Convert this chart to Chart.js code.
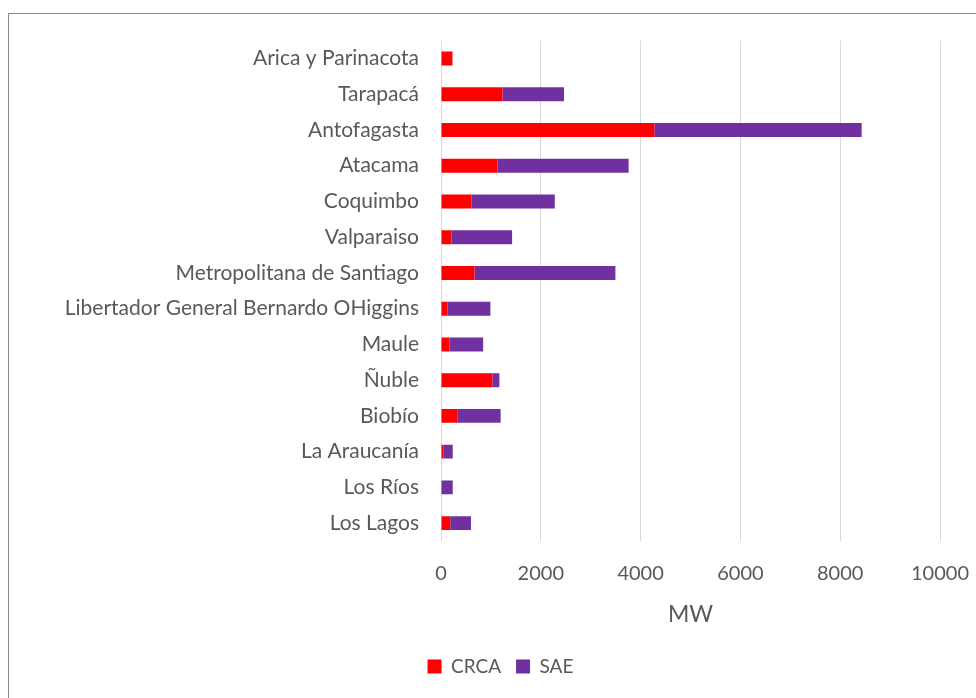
<!DOCTYPE html>
<html>
<head>
<meta charset="utf-8">
<script src="https://cdn.jsdelivr.net/npm/chart.js@4"></script>
<style>
  html, body { margin: 0; padding: 0; background: #ffffff; overflow: hidden; }
  #frame {
    position: absolute; left: 8px; top: 13px;
    width: 1000px; height: 720px;
    border-left: 1px solid #8a8a8a; border-top: 1px solid #8a8a8a;
  }
  #wrap { position: absolute; left: 9px; top: 14px; width: 967px; height: 684px; }
</style>
</head>
<body>
<div id="frame"></div>
<div id="wrap"><canvas id="chart"></canvas></div>
<script>
// Installed capacity by region (MW)
const regions = [
  'Arica y Parinacota', 'Tarapacá', 'Antofagasta', 'Atacama', 'Coquimbo',
  'Valparaiso', 'Metropolitana de Santiago', 'Libertador General Bernardo OHiggins',
  'Maule', 'Ñuble', 'Biobío', 'La Araucanía', 'Los Ríos', 'Los Lagos'
];
const crca = [230, 1230, 4275, 1130, 610, 210, 670, 130, 170, 1030, 335, 45, 0, 185];
const sae  = [0, 1235, 4155, 2630, 1670, 1215, 2825, 860, 675, 140, 860, 190, 235, 415];
const xTicks = [0, 2000, 4000, 6000, 8000, 10000];

const FONT = 'Lato';
const TEXT = '#595959';

new Chart(document.getElementById('chart'), {
  type: 'bar',
  data: {
    labels: regions,
    datasets: [
      { label: 'CRCA', data: crca, backgroundColor: '#FF0000' },
      { label: 'SAE',  data: sae,  backgroundColor: '#7030A0' }
    ]
  },
  options: {
    indexAxis: 'y',
    responsive: true,
    maintainAspectRatio: false,
    animation: false,
    barPercentage: 0.6,
    categoryPercentage: 0.65,
    layout: { padding: { top: 19, right: 36, bottom: 12, left: 52 } },
    scales: {
      x: {
        stacked: true,
        min: 0, max: 10000,
        afterBuildTicks: (s) => { s.ticks = xTicks.map(v => ({ value: v })); },
        afterFit: (s) => { s.height = 101; },
        grid: { color: '#D9D9D9', lineWidth: 1, drawTicks: true, tickLength: 17, tickColor: 'rgba(0,0,0,0)' },
        border: { display: false },
        ticks: {
          color: TEXT, font: { family: FONT, size: 20 }, padding: 4, maxRotation: 0,
          callback: (v) => String(v)
        },
        title: {
          display: true, text: 'MW', color: TEXT,
          font: { family: FONT, size: 23 }, padding: { top: 4, bottom: 14 }
        }
      },
      y: {
        stacked: true,
        afterFit: (s) => { s.width = 380; },
        grid: { display: false },
        border: { display: false },
        ticks: { color: TEXT, font: { family: FONT, size: 21 }, padding: 14, autoSkip: false }
      }
    },
    plugins: {
      legend: {
        position: 'bottom',
        labels: { color: TEXT, font: { family: FONT, size: 19 }, boxWidth: 14, boxHeight: 14, padding: 15 }
      },
      tooltip: { enabled: false }
    }
  }
});
</script>
</body>
</html>
